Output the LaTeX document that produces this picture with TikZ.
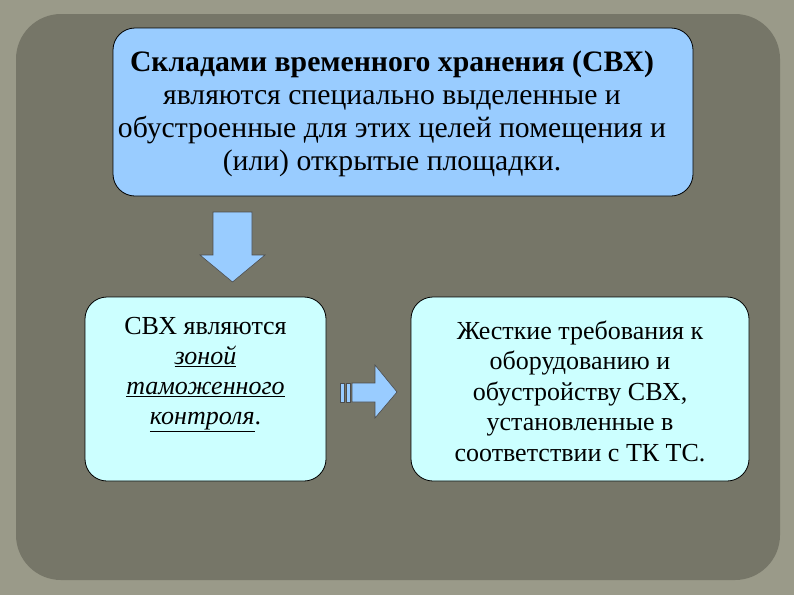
\documentclass[tikz,border=0pt]{standalone}
\usepackage{fontspec}
\setmainfont{Liberation Serif}
\newfontfamily\tnr{Liberation Serif}
\begin{document}
\begin{tikzpicture}[x=1pt,y=-1pt,
  bx/.style={draw=black,line width=0.8pt,rounded corners=22pt},
  txt/.style={align=center,font=\tnr\fontsize{29.7}{33}\selectfont},
  arr/.style={draw=black!70,fill={rgb,255:red,153;green,204;blue,255},line width=0.6pt}]
\fill[color={rgb,255:red,154;green,154;blue,137}] (0,0) rectangle (794,595);
\fill[color={rgb,255:red,118;green,118;blue,104},rounded corners=45pt] (16,14) rectangle (780,580);
\useasboundingbox (0,0) rectangle (794,595);
\node[bx,fill={rgb,255:red,153;green,204;blue,255},minimum width=580,minimum height=168] (top) at (403,112) {};
\node[txt] (toptxt) at (392,114) {\textbf{Складами временного хранения (СВХ)}\\ являются специально выделенные и\\ обустроенные для этих целей помещения и\\ (или) открытые площадки.};
\node[bx,fill={rgb,255:red,204;green,255;blue,255},minimum width=241,minimum height=184] (left) at (205.5,389) {};
\node[txt,font=\tnr\fontsize{26}{30}\selectfont,anchor=north] (lefttxt) at (205.5,314) {СВХ являются\\ \textit{\underline{зоной}}\\ \textit{\underline{таможенного}}\\ \textit{\underline{контроля}}.};
\node[bx,fill={rgb,255:red,204;green,255;blue,255},minimum width=338,minimum height=184] (right) at (580,389) {};
\node[txt,font=\tnr\fontsize{26}{30.5}\selectfont] (righttxt) at (580,391) {Жесткие требования к\\ оборудованию и\\ обустройству СВХ,\\ установленные в\\ соответствии с ТК ТС.};
\draw[arr] (213,212) -- (252,212) -- (252,255) -- (265,255) -- (232.5,282) -- (200,255) -- (213,255) -- cycle;
\draw[arr] (340,383) rectangle (344,402);
\draw[arr] (346,383) rectangle (350,402);
\draw[arr] (352,383) -- (375,383) -- (375,365) -- (397,392) -- (375,418) -- (375,402) -- (352,402) -- cycle;
\end{tikzpicture}
\end{document}
